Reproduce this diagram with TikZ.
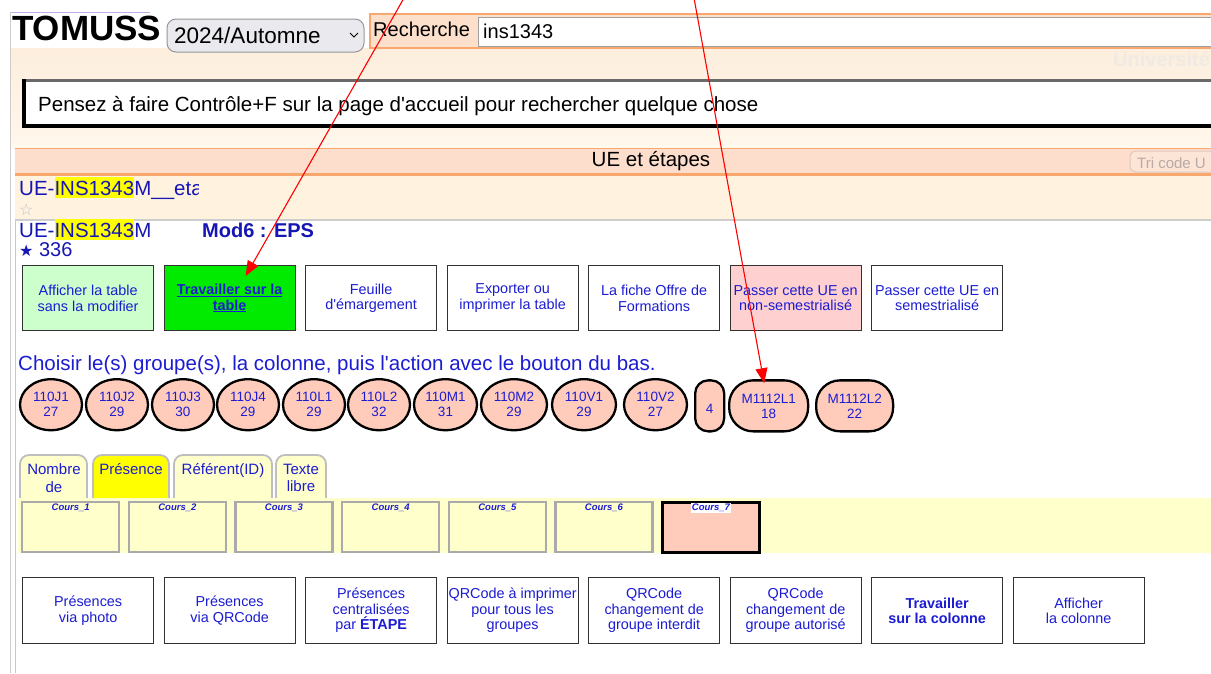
\documentclass[tikz,border=0pt]{standalone}
\usepackage{fontspec}
\setmainfont{Liberation Sans}[Ligatures=TeXOff]
\newfontfamily\sym{DejaVu Sans}
\usetikzlibrary{arrows.meta,calc,shapes.geometric}
\definecolor{tblue}{RGB}{28,28,210}
\definecolor{uetxt}{RGB}{22,22,180}
\definecolor{bborder}{RGB}{50,50,50}
\definecolor{gbright}{RGB}{0,235,0}
\definecolor{glight}{RGB}{204,255,204}
\definecolor{pinkbtn}{RGB}{255,208,208}
\definecolor{pillc}{RGB}{255,204,187}
\definecolor{bandy}{RGB}{255,255,204}
\definecolor{cgray}{RGB}{170,170,170}
\definecolor{tabgray}{RGB}{190,190,190}
\definecolor{hdr}{RGB}{253,221,204}
\definecolor{hdrline}{RGB}{248,168,110}
\definecolor{cream}{RGB}{255,243,224}
\definecolor{creamtop}{RGB}{253,238,221}
\definecolor{creambot}{RGB}{255,248,236}
\definecolor{selfill}{RGB}{233,233,238}
\definecolor{faint}{RGB}{240,234,228}
\definecolor{hl}{RGB}{255,255,0}
\setlength{\fboxsep}{0pt}
\newcommand{\hlt}[1]{\colorbox{hl}{\rule[-3pt]{0pt}{21pt}#1}}
\tikzset{
 btn/.style={draw=bborder, line width=1.3pt, minimum width=131pt, minimum height=65pt, anchor=north west, align=center, text=tblue, font=\fontsize{14.4}{15.5}\selectfont, inner sep=0pt},
 pill/.style={draw=black, line width=2.3pt, fill=pillc, minimum height=51pt, anchor=north west, rounded corners=24pt, align=center, text=tblue, font=\fontsize{13.5}{15}\selectfont, inner sep=0pt},
 pillE/.style={ellipse, draw=black, line width=2.3pt, fill=pillc, minimum height=51pt, minimum width=62pt, anchor=center, align=center, text=tblue, font=\fontsize{13.5}{15}\selectfont, inner sep=0pt},
 cbox/.style={draw=cgray, line width=2.3pt, fill=bandy, minimum width=97pt, minimum height=50pt, anchor=north west, inner sep=0pt},
 clab/.style={anchor=north, font=\fontsize{9.5}{11}\selectfont\bfseries\itshape, text=tblue, inner sep=1pt, yshift=-2pt},
 tabshape/.style={draw=tabgray, line width=1.8pt, rounded corners=9pt},
 tabtxt/.style={anchor=north, align=center, text=tblue, font=\fontsize{15}{17.5}\selectfont, inner sep=0pt},
 arr/.style={draw=red, line width=1.1pt, -{Triangle[length=15pt,width=12pt]}},
}
\begin{document}
\begin{tikzpicture}[x=1pt,y=-1pt]
\useasboundingbox (0,0) rectangle (1211,673);
\clip (0,0) rectangle (1211,673);
\fill[white] (0,0) rectangle (1211,673);
% top area
\shade[top color=creamtop, bottom color=creambot] (10,48) rectangle (1215,148);
\draw[line width=0.8pt, color={rgb,255:red,200;green,170;blue,230}] (10,12.5) -- (150,12.5);
\draw[line width=1.5pt, color={rgb,255:red,205;green,205;blue,205}] (10.5,12) -- (10.5,673);
\draw[line width=1pt, color=hdrline!80] (15,148) -- (15,673);
\node[anchor=base west, font=\fontsize{35}{37}\selectfont\bfseries, inner sep=0pt] (title) at (12,40) {TOMUSS};
\draw[fill=selfill, draw={rgb,255:red,150;green,150;blue,155}, line width=1pt, rounded corners=9pt] (167,19) rectangle (364,52);
\node[anchor=base west, font=\fontsize{22.5}{24}\selectfont, inner sep=0pt] (sel) at (174,43) {2024/Automne};
\draw[line width=1pt] (350,33) -- (354,37) -- (358,33);
\draw[fill={rgb,255:red,253;green,224;blue,204}, draw=hdrline, line width=1.2pt] (370,14) rectangle (1215,48);
\node[anchor=base west, font=\fontsize{20}{22}\selectfont, inner sep=0pt] (rech) at (373,36) {Recherche};
\draw[fill=white, draw={rgb,255:red,160;green,160;blue,160}, line width=1pt] (478,17) rectangle (1215,46);
\node[anchor=base west, font=\fontsize{20}{22}\selectfont, inner sep=0pt] (inp) at (483,38) {ins1343};
\node[anchor=base west, font=\fontsize{20}{22}\selectfont\bfseries, text=faint, inner sep=0pt] (univ) at (1113,66) {Université};
% message box
\fill[white] (24,81) rectangle (1215,126);
\draw[line width=3.5pt, color={rgb,255:red,105;green,105;blue,105}] (22,80.5) -- (1215,80.5);
\draw[line width=4pt] (24,79) -- (24,126) -- (1215,126);
\node[anchor=base west, font=\fontsize{20.5}{22}\selectfont, inner sep=0pt] (msg) at (38,111) {Pensez à faire Contrôle+F sur la page d'accueil pour rechercher quelque chose};
% UE header
\fill[hdr] (15,148) rectangle (1215,173);
\draw[line width=0.8pt, color=hdrline] (15,148) -- (1215,148);
\draw[line width=3pt, color=hdrline] (15,174) -- (1215,174);
\node[anchor=base, font=\fontsize{20.5}{22}\selectfont, inner sep=0pt] (uehead) at (651,166) {UE et étapes};
\draw[fill={rgb,255:red,252;green,228;blue,214}, draw={rgb,255:red,225;green,200;blue,190}, line width=1pt, rounded corners=6pt] (1130,151) rectangle (1225,172);
\node[anchor=base west, font=\fontsize{15}{17}\selectfont, text={rgb,255:red,185;green,170;blue,165}, inner sep=0pt] (tri) at (1137,168) {Tri code U};
% UE rows
\fill[cream] (15,175.5) rectangle (1215,219);
\draw[line width=1.5pt, color={rgb,255:red,205;green,205;blue,205}] (15,220) -- (1215,220);
\begin{scope}
\clip (15,176) rectangle (198,203);
\node[anchor=base west, font=\fontsize{20.5}{22}\selectfont, text=uetxt, inner sep=0pt] (ue1) at (19,195) {UE-\hlt{INS1343}M\_\_eta};
\end{scope}
\node[anchor=base west, font=\sym\fontsize{16}{18}\selectfont, text={rgb,255:red,190;green,190;blue,205}, inner sep=0pt] (st1) at (19,215) {☆};
\node[anchor=base west, font=\fontsize{20.5}{22}\selectfont, text=uetxt, inner sep=0pt] (ue2) at (19,237) {UE-\hlt{INS1343}M};
\node[anchor=base west, font=\fontsize{20}{22}\selectfont\bfseries, text=uetxt, inner sep=0pt] (mod) at (202,237) {Mod6 : EPS};
\node[anchor=base west, font=\fontsize{20}{22}\selectfont, text=uetxt, inner sep=0pt] (cnt) at (19,256) {{\sym\fontsize{16}{17}\selectfont ★} 336};
% buttons row 1
\node[btn, fill=glight] (b1) at (22,265) {Afficher la table\\sans la modifier};
\node[btn, fill=gbright] (b2) at (163.5,265) {\textbf{\underline{Travailler sur la}}\\\textbf{\underline{table}}};
\node[btn, fill=white] (b3) at (305,265) {Feuille\\d'émargement};
\node[btn, fill=white] (b4) at (446.5,265) {Exporter ou\\imprimer la table};
\node[btn, fill=white] (b5) at (588,265) {La fiche Offre de\\Formations};
\node[btn, fill=pinkbtn] (b6) at (729.5,265) {Passer cette UE en\\non-semestrialisé};
\node[btn, fill=white] (b7) at (871,265) {Passer cette UE en\\semestrialisé};
% choose text
\node[anchor=base west, font=\fontsize{20.5}{22}\selectfont, text=tblue, inner sep=0pt] (choose) at (18,370) {Choisir le(s) groupe(s), la colonne, puis l'action avec le bouton du bas.};
% pills
\node[pillE] (p1) at (51,404.7) {110J1\\27};
\node[pillE] (p2) at (117,404.7) {110J2\\29};
\node[pillE] (p3) at (183,404.7) {110J3\\30};
\node[pillE] (p4) at (248,404.7) {110J4\\29};
\node[pillE] (p5) at (314,404.7) {110L1\\29};
\node[pillE] (p6) at (379,404.7) {110L2\\32};
\node[pillE, minimum width=63pt] (p7) at (445.5,404.7) {110M1\\31};
\node[pillE, minimum width=66pt] (p8) at (514,404.7) {110M2\\29};
\node[pillE, minimum width=64pt] (p9) at (584,404.7) {110V1\\29};
\node[pillE, minimum width=63pt] (p10) at (655.5,404.7) {110V2\\27};
\node[pill, minimum width=29pt, rounded corners=13pt] (p11) at (694,379.2) {\\4};
\node[pill, minimum width=79pt] (p12) at (728,379.2) {M1112L1\\18};
\node[pill, minimum width=77pt] (p13) at (815,379.2) {M1112L2\\22};
% tabs
\filldraw[tabshape, fill=bandy] (20,499) -- (20,455) -- (87,455) -- (87,499);
\filldraw[tabshape, fill=hl] (93,499) -- (93,455) -- (169,455) -- (169,499);
\filldraw[tabshape, fill=bandy] (174,499) -- (174,455) -- (272,455) -- (272,499);
\filldraw[tabshape, fill=bandy] (276,499) -- (276,455) -- (326,455) -- (326,499);
\node[tabtxt] (t1) at (54,463.5) {Nombre\\de};
\node[tabtxt] (t2) at (131,463.5) {Présence};
\node[tabtxt] (t3) at (223,463.5) {Référent(ID)};
\node[tabtxt] (t4) at (301,463.5) {Texte\\libre};
% column band
\fill[bandy] (18,498) rectangle (1215,553);
\node[cbox] (c1) at (21,501) {};
\node[cbox] (c2) at (127.7,501) {};
\node[cbox] (c3) at (234.3,501) {};
\node[cbox] (c4) at (341,501) {};
\node[cbox] (c5) at (447.7,501) {};
\node[cbox] (c6) at (554.3,501) {};
\node[cbox, draw=black, line width=2.8pt, fill=pillc] (c7) at (661,501) {};
\node[clab] (c1l) at (c1.north) {Cours\_1};
\node[clab] (c2l) at (c2.north) {Cours\_2};
\node[clab] (c3l) at (c3.north) {Cours\_3};
\node[clab] (c4l) at (c4.north) {Cours\_4};
\node[clab] (c5l) at (c5.north) {Cours\_5};
\node[clab] (c6l) at (c6.north) {Cours\_6};
\node[clab, fill=white] (c7l) at (c7.north) {Cours\_7};
% bottom buttons
\node[btn, fill=white, minimum height=66pt] (d1) at (22,577) {Présences\\via photo};
\node[btn, fill=white, minimum height=66pt] (d2) at (163.5,577) {Présences\\via QRCode};
\node[btn, fill=white, minimum height=66pt] (d3) at (305,577) {Présences\\centralisées\\par \textbf{ÉTAPE}};
\node[btn, fill=white, minimum height=66pt] (d4) at (446.5,577) {QRCode à imprimer\\pour tous les\\groupes};
\node[btn, fill=white, minimum height=66pt] (d5) at (588,577) {QRCode\\changement de\\groupe interdit};
\node[btn, fill=white, minimum height=66pt] (d6) at (729.5,577) {QRCode\\changement de\\groupe autorisé};
\node[btn, fill=white, minimum height=66pt] (d7) at (871,577) {\textbf{Travailler}\\\textbf{sur la colonne}};
\node[btn, fill=white, minimum height=66pt] (d8) at (1012.5,577) {Afficher\\la colonne};
% arrows
\coordinate (a1s) at (404,-2);
\coordinate (a2s) at (694,-2);
\draw[arr] (a1s) -- ($(b2.north)+(16,11)$);
\draw[arr] (a2s) -- ($(p12.north)+(-4.5,4)$);
\end{tikzpicture}
\end{document}
